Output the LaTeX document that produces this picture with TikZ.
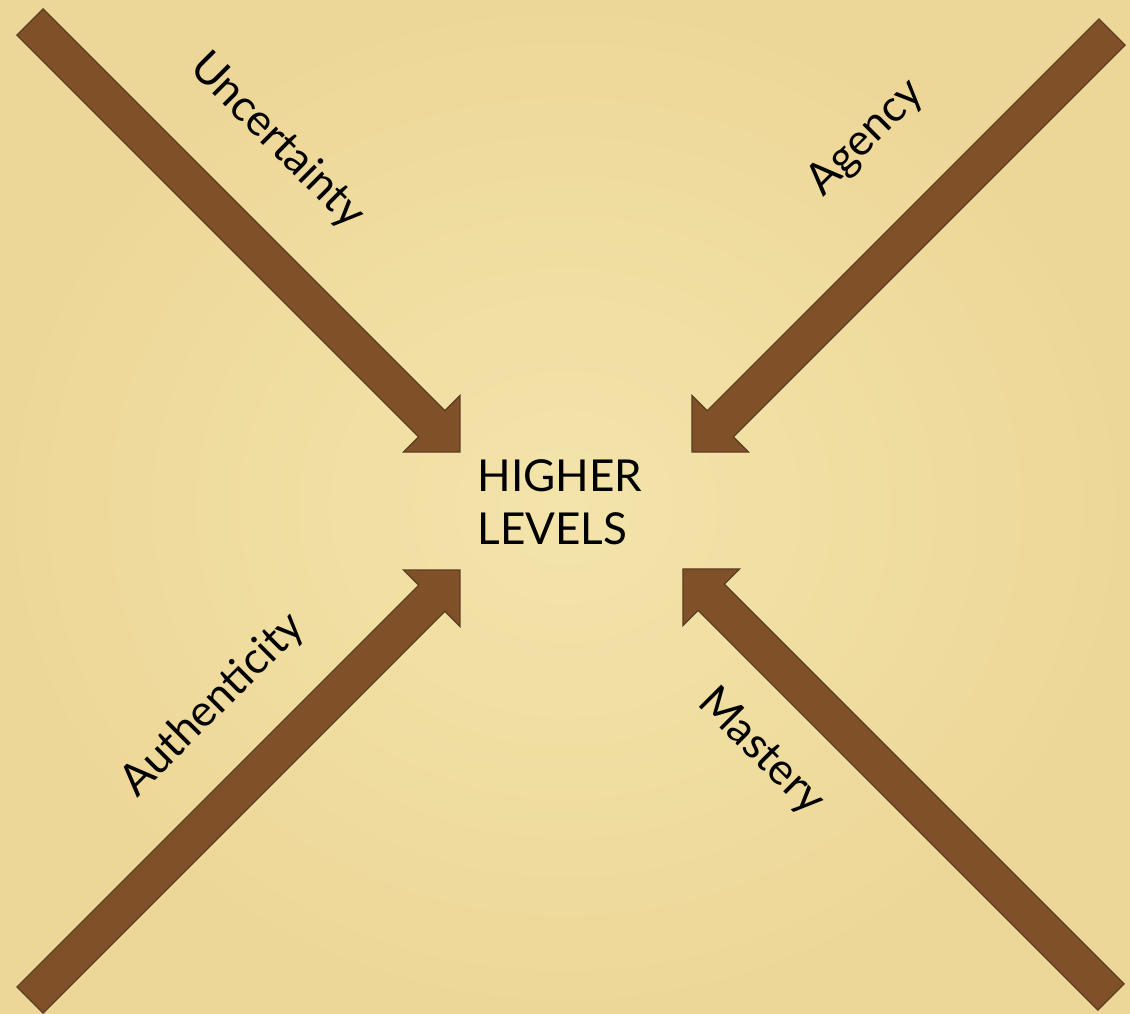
\documentclass[tikz,border=0pt]{standalone}
\usepackage{fontspec}
\setmainfont{Lato}
\usetikzlibrary{calc}
\definecolor{parchIn}{RGB}{243,228,170}
\definecolor{parchOut}{RGB}{237,215,152}
\definecolor{woodFill}{RGB}{128,80,40}
\definecolor{woodEdge}{RGB}{92,62,34}
\tikzset{
  arrowbody/.style={fill=woodFill, draw=woodEdge, line width=1.2pt, line join=miter},
  lbl/.style={font=\fontsize{44}{52}\selectfont, text=black, inner sep=0pt},
}
\newcommand{\woodarrow}[3]{% tail coordinate, rotation, length
  \begin{scope}[shift={(#1)}, rotate=#2]
    \path[arrowbody] (0,-18.5) -- ({#3-40},-18.5) -- ({#3-40},-40) -- (#3,0)
      -- ({#3-40},40) -- ({#3-40},18.5) -- (0,18.5) -- cycle;
  \end{scope}}
\begin{document}
\begin{tikzpicture}[x=1pt, y=-1pt]
  \shade[inner color=parchIn, outer color=parchOut] (0,0) rectangle (1130,1013);
  \useasboundingbox (0,0) rectangle (1130,1013);
  % named ends of the four arrows
  \coordinate (t1) at (30,22);    \coordinate (h1) at (460,452);
  \coordinate (t2) at (1112,32);  \coordinate (h2) at (692,452);
  \coordinate (t3) at (30,1000);  \coordinate (h3) at (460,570);
  \coordinate (t4) at (1111,997); \coordinate (h4) at (683,569);
  \woodarrow{t1}{-45}{608.1}
  \woodarrow{t2}{-135}{594.0}
  \woodarrow{t3}{45}{608.1}
  \woodarrow{t4}{135}{605.3}
  % labels
  \node[lbl, align=left] (center) at (560,502) {HIGHER\\[1pt]LEVELS};
  \node[lbl, rotate=-45] (unc) at (277,141) {Uncertainty};
  \node[lbl, rotate=45] (agy) at (866,138) {Agency};
  \node[lbl, rotate=45] (aut) at (213,705) {Authenticity};
  \node[lbl, rotate=-45] (mas) at (761,752) {Mastery};
\end{tikzpicture}
\end{document}
